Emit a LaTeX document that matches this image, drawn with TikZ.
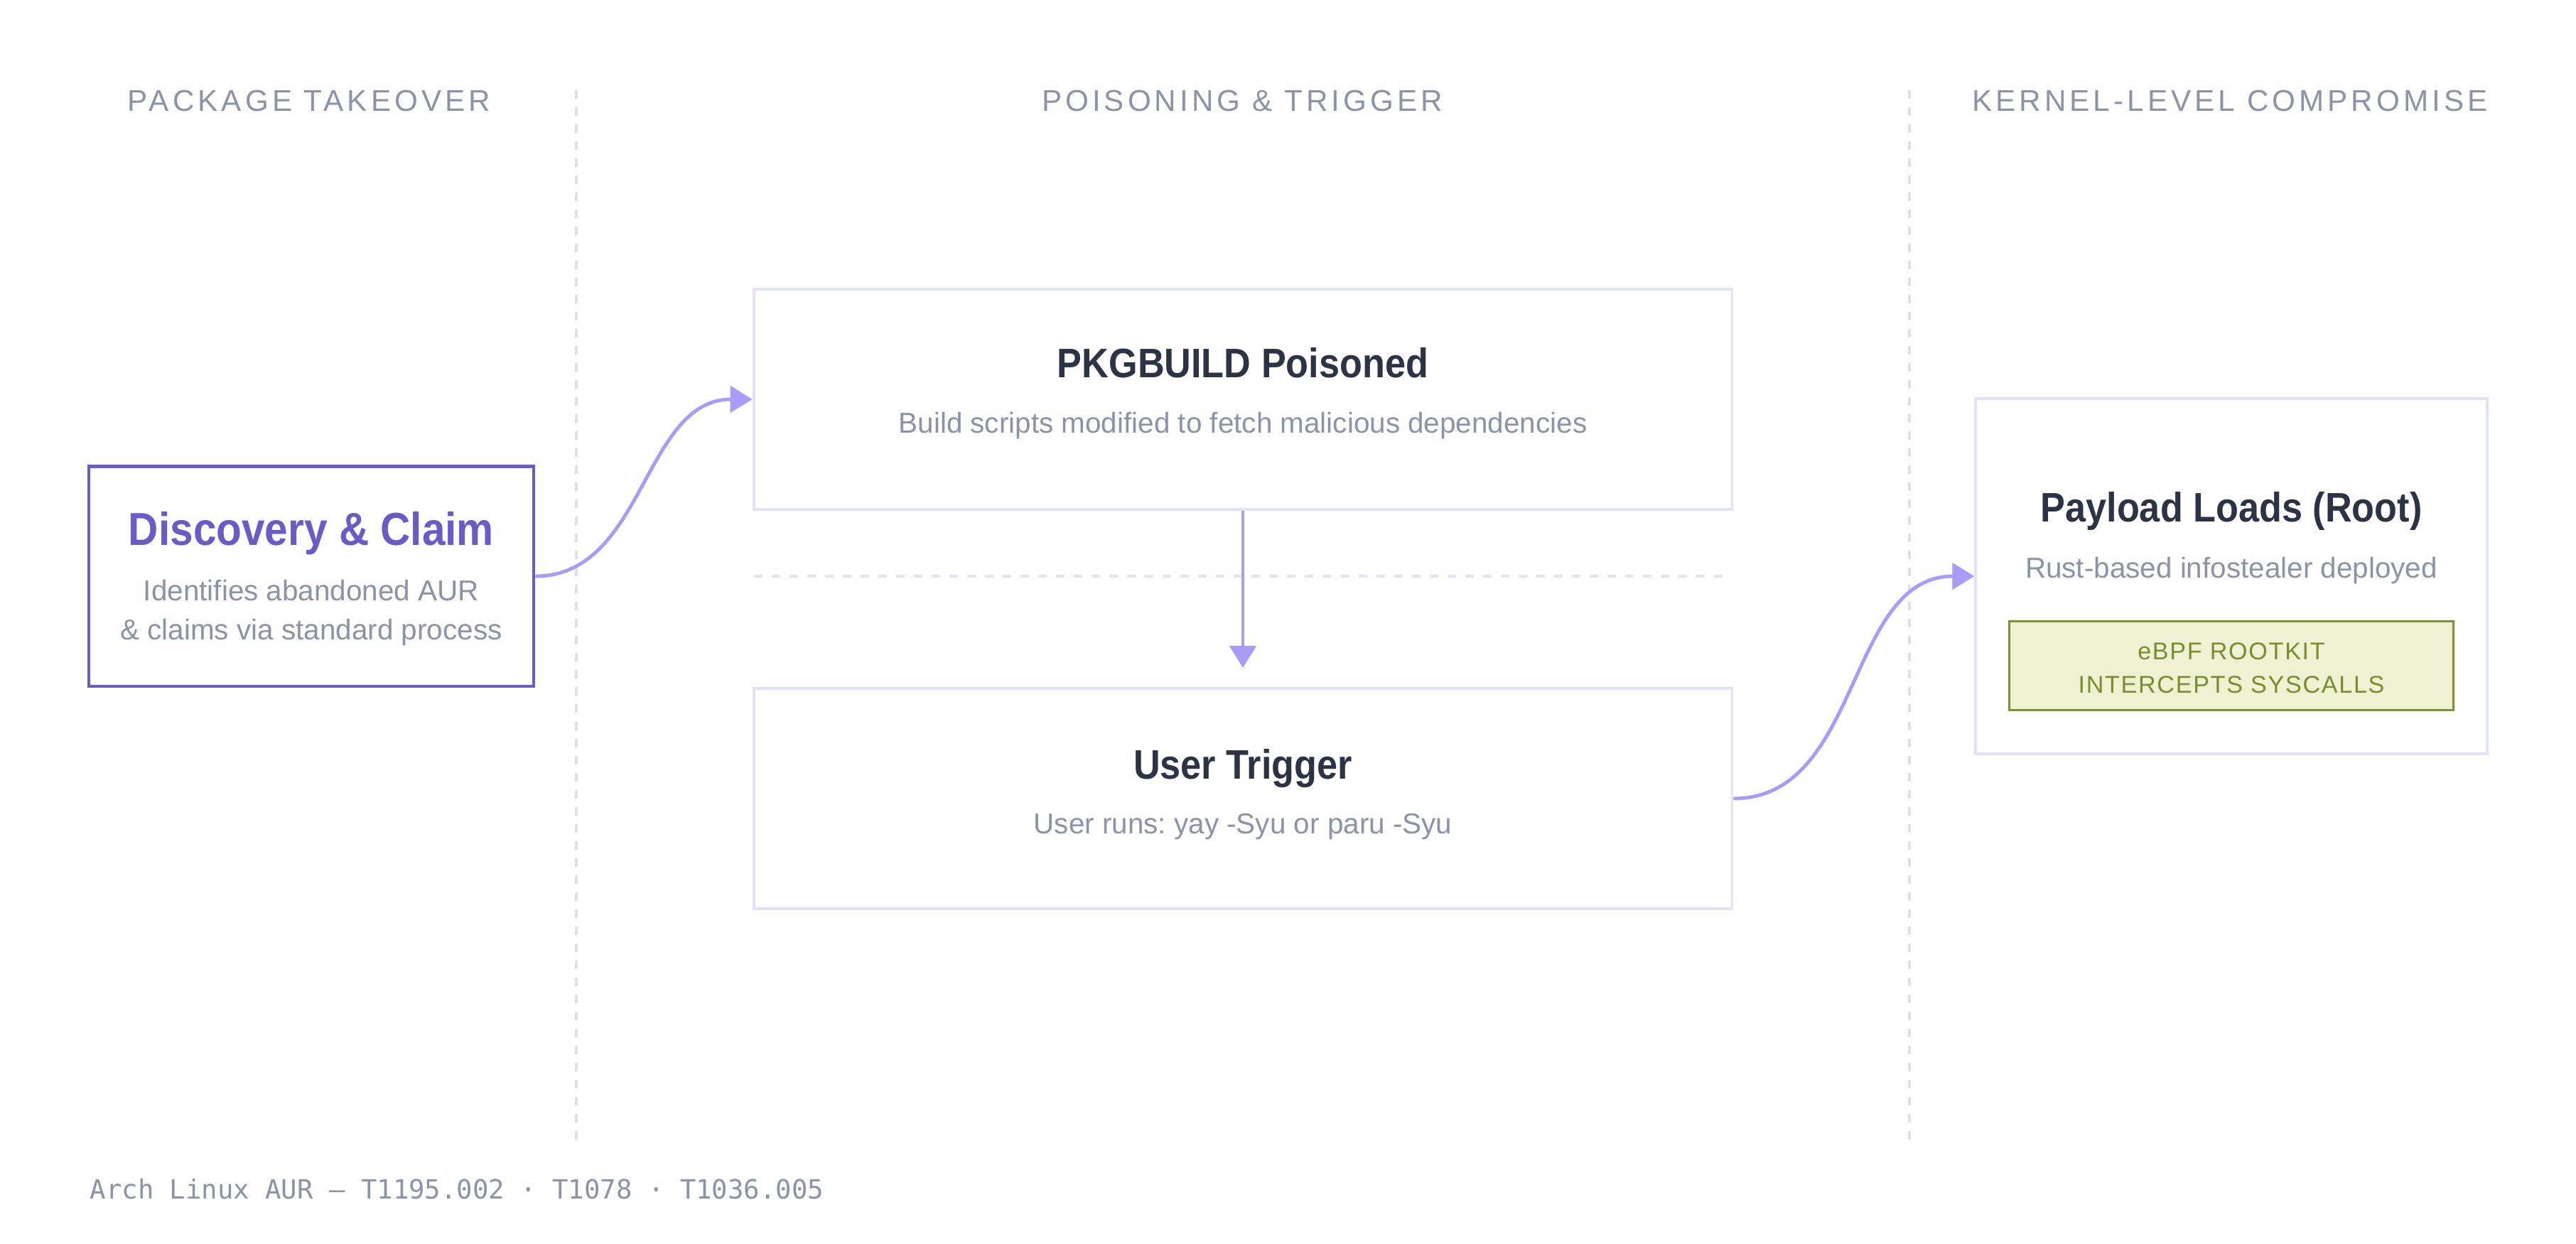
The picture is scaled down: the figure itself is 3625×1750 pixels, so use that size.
\documentclass[tikz,border=0pt]{standalone}
\usepackage{fontspec}
\setmainfont{Liberation Sans}
\newfontfamily\titlefont[FakeStretch=0.9]{Liberation Sans}
\newfontfamily\headfont[LetterSpace=12]{Liberation Sans}
\newfontfamily\tagfont[LetterSpace=5]{Liberation Sans}
\newfontfamily\footfont{DejaVu Sans Mono}
\usetikzlibrary{arrows.meta}

\definecolor{accent}{HTML}{6B5BC7}
\definecolor{flowline}{HTML}{A99CF8}
\definecolor{cardline}{HTML}{E0E3F9}
\definecolor{ink}{HTML}{2B3345}
\definecolor{muted}{HTML}{8A93A8}
\definecolor{divline}{HTML}{DCE0EB}
\definecolor{tagfill}{HTML}{EEF2D3}
\definecolor{tagline}{HTML}{7F9134}
\definecolor{tagtext}{HTML}{7B8C2D}

\begin{document}
\frenchspacing
\begin{tikzpicture}[x=0.01cm, y=-0.01cm,
    card/.style={rectangle, draw=cardline, line width=1.1pt, fill=white},
    lead/.style={rectangle, draw=accent, line width=1.2pt, fill=white},
    tagbox/.style={rectangle, draw=tagline, fill=tagfill, line width=0.9pt},
    title/.style={anchor=base, inner sep=0pt, text=ink, font=\titlefont\bfseries\fontsize{16.5}{20}\selectfont},
    sub/.style={anchor=base, inner sep=0pt, text=muted, font=\fontsize{11.5}{15.6}\selectfont, align=center},
    phase/.style={anchor=base, inner sep=0pt, text=muted, font=\headfont\fontsize{12}{14}\selectfont},
    flow/.style={-{Triangle[length=0.31cm,width=0.37cm]}, draw=flowline, line width=1.4pt},
    divider/.style={draw=divline, line width=1.1pt, dash pattern=on 0.12cm off 0.12cm}
]
\useasboundingbox (0,0) rectangle (3625,1750);

% phase headers
\node[phase] (hTake) at (435, 156) {PACKAGE TAKEOVER};
\node[phase] (hPoison) at (1748, 156) {POISONING \& TRIGGER};
\node[phase] (hKernel) at (3138, 156) {KERNEL-LEVEL COMPROMISE};

% phase dividers
\draw[divider] (811, 127) -- (811, 1611);
\draw[divider] (2687, 127) -- (2687, 1611);

% boxes
\node[lead, minimum width=6.26cm, minimum height=3.09cm] (disc) at (438, 811) {};
\node[card, minimum width=13.76cm, minimum height=3.1cm] (pkg) at (1749, 562) {};
\node[card, minimum width=13.76cm, minimum height=3.1cm] (trig) at (1749, 1124) {};
\node[card, minimum width=7.19cm, minimum height=4.99cm] (pay) at (3140, 811) {};
\node[tagbox, minimum width=6.25cm, minimum height=1.25cm] (kit) at (3140, 937) {};

% box texts
\node[title, text=accent, font=\titlefont\bfseries\fontsize{18.5}{22}\selectfont] (discT) at (438, 767) {Discovery \& Claim};
\node[sub] (discS1) at (438, 845) {Identifies abandoned AUR};
\node[sub] (discS2) at (438, 900) {\& claims via standard process};

\node[title] (pkgT) at (1749, 531) {PKGBUILD Poisoned};
\node[sub] (pkgS) at (1749, 609) {Build scripts modified to fetch malicious dependencies};

\node[title] (trigT) at (1749, 1096) {User Trigger};
\node[sub] (trigS) at (1749, 1173) {User runs: yay -Syu or paru -Syu};

\node[title] (payT) at (3140, 734) {Payload Loads (Root)};
\node[sub] (payS) at (3140, 813) {Rust-based infostealer deployed};

\node[anchor=base, inner sep=0pt, text=tagtext, font=\tagfont\fontsize{9.7}{13}\selectfont] (kitA) at (3140, 928) {eBPF ROOTKIT};
\node[anchor=base, inner sep=0pt, text=tagtext, font=\tagfont\fontsize{9.7}{13}\selectfont] (kitB) at (3140, 975) {INTERCEPTS SYSCALLS};

% separator between poisoning and trigger
\draw[draw=cardline, line width=1.1pt, dash pattern=on 0.12cm off 0.13cm] (1061, 811) -- (2428, 811);

% flow
\coordinate (drop) at (1749, 940);
\draw[flow] (disc.east) to[out=0, in=180] (pkg.west);
\draw[flow] (pkg.south) -- (drop);
\draw[flow] (trig.east) to[out=0, in=180] (pay.west);

% footer
\node[anchor=base west, inner sep=0pt, text=muted, font=\footfont\fontsize{10.6}{13}\selectfont] (foot) at (126, 1687) {Arch Linux AUR — T1195.002 · T1078 · T1036.005};

\end{tikzpicture}
\end{document}
